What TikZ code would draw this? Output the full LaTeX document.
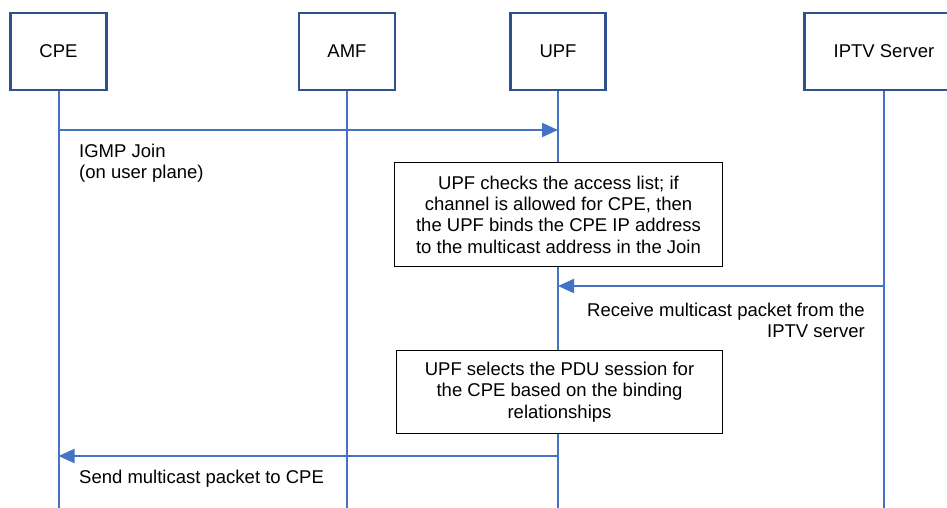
\documentclass[tikz,border=0pt]{standalone}
\usepackage{fontspec}
\setmainfont{Liberation Sans}
\usetikzlibrary{arrows.meta, positioning, calc}
\definecolor{lineblue}{RGB}{68, 114, 196}
\definecolor{boxblue}{RGB}{47, 82, 143}
\tikzset{
  entity/.style={
    draw=boxblue, rectangle, line width=2.6pt, fill=white,
    minimum height=77pt, inner sep=0pt
  },
  notebox/.style={
    draw=black, rectangle, line width=1.6pt, fill=white,
    align=center, inner sep=0pt
  },
  lifeline/.style={
    draw=lineblue, line width=2pt
  },
  msg/.style={
    draw=lineblue, line width=2pt, -{Triangle[length=16pt, width=14pt]}
  },
  msglabel/.style={
    inner sep=0pt
  }
}

\begin{document}
\begin{tikzpicture}[x=1pt, y=-1pt, font=\fontsize{18.5}{21.3}\selectfont]
  \useasboundingbox (0,0) rectangle (947,508);
  \clip (0,0) rectangle (947,508);

  % entities
  \node[entity, minimum width=96pt] (cpe) at (58.5,51.5) {CPE};
  \node[entity, minimum width=96pt] (amf) at (347,51.5) {AMF};
  \node[entity, minimum width=95pt] (upf) at (558,51.5) {UPF};
  \node[entity, minimum width=159pt] (iptv) at (884,51.5) {IPTV Server};

  % lifelines
  \coordinate (cpe-end) at (58.5,508);
  \coordinate (amf-end) at (347,508);
  \coordinate (upf-end) at (558,508);
  \coordinate (iptv-end) at (884,508);
  \draw[lifeline] (cpe.south) -- (cpe-end);
  \draw[lifeline] (amf.south) -- (amf-end);
  \draw[lifeline] (upf.south) -- (upf-end);
  \draw[lifeline] (iptv.south) -- (iptv-end);

  % message ends
  \coordinate (join-src) at (58.5,130);
  \coordinate (join-dst) at (558,130);
  \coordinate (recv-src) at (884,286);
  \coordinate (recv-dst) at (558,286);
  \coordinate (send-src) at (558,456);
  \coordinate (send-dst) at (58.5,456);

  % IGMP join
  \draw[msg] (join-src) -- (join-dst);
  \node[msglabel, anchor=west, align=left] (join-label) at (79,163) {IGMP Join\\(on user plane)};

  \node[notebox, minimum width=328pt, minimum height=104pt] (check) at (558.5,214.5)
    {UPF checks the access list; if\\channel is allowed for CPE, then\\the UPF binds the CPE IP address\\to the multicast address in the Join};

  % multicast from server
  \draw[msg] (recv-src) -- (recv-dst);
  \node[msglabel, anchor=east, align=right] (recv-label) at (865,320.5) {Receive multicast packet from the\\IPTV server};

  \node[notebox, minimum width=326pt, minimum height=83pt] (select) at (559.5,392)
    {UPF selects the PDU session for\\the CPE based on the binding\\relationships};

  % multicast to CPE
  \draw[msg] (send-src) -- (send-dst);
  \node[msglabel, anchor=west] (send-label) at (79,479) {Send multicast packet to CPE};
\end{tikzpicture}
\end{document}
